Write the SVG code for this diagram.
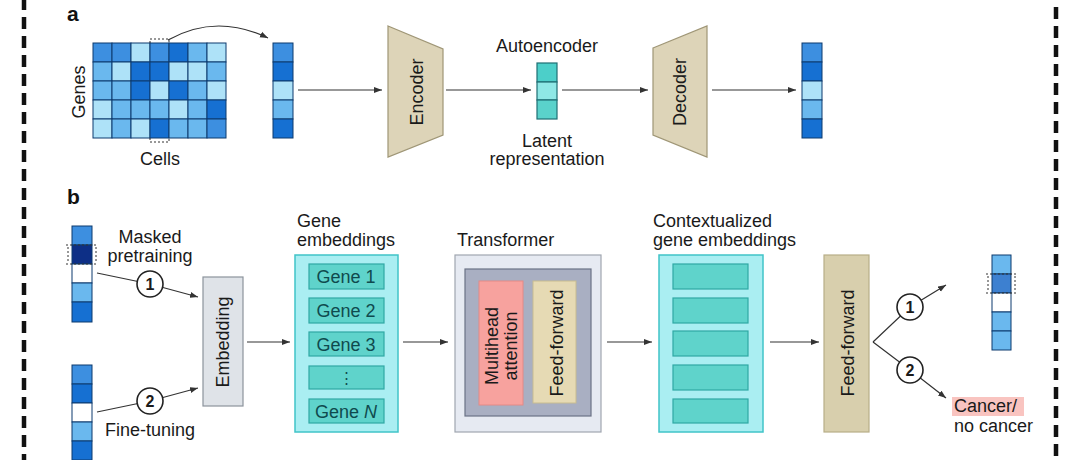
<svg xmlns="http://www.w3.org/2000/svg" width="1080" height="460" viewBox="0 0 1080 460">
<defs>
<marker id="ah" markerUnits="userSpaceOnUse" markerWidth="9" markerHeight="7" refX="8" refY="3.5" orient="auto">
<path d="M0,0.5 L8,3.5 L0,6.5 z" fill="#333"/>
</marker>
<style>
text{font-family:"Liberation Sans",Arial,sans-serif;font-size:18px;fill:#1a1a1a}
.lbl{font-weight:bold;font-size:21px;fill:#111}
.num{font-weight:bold;font-size:16px;text-anchor:middle}
.mid{text-anchor:middle}
.c{stroke:#0d3a6e;stroke-width:1}
.d{fill:#1670d2}.m{fill:#3d8fe0}.lm{fill:#6ab8ee}.l{fill:#aee2f8}.w{fill:#ffffff}.n{fill:#0d2f86}
.conn{fill:none;stroke:#333;stroke-width:1.2}
.dot{fill:none;stroke:#333;stroke-width:1;stroke-dasharray:2 2}
.circ{fill:#fff;stroke:#222;stroke-width:1.6}
.trap{fill:#ddd4b8;stroke:#9f9676;stroke-width:1.2}
.gin{fill:#5fd3cb;stroke:#2fa8a4;stroke-width:1.2}
.gt{fill:#0f4a4e;text-anchor:middle}
</style>
</defs>
<rect width="1080" height="460" fill="#ffffff"/>
<g id="border">
<line x1="24" y1="-2" x2="24" y2="462" stroke="#111" stroke-width="4.5" stroke-dasharray="12 7"/>
<line x1="1056" y1="-2" x2="1056" y2="462" stroke="#111" stroke-width="4.5" stroke-dasharray="12 7" stroke-dashoffset="10"/>
</g>
<text class="lbl" x="67" y="21">a</text>
<text class="lbl" x="67" y="204">b</text>

<g id="matrix">
<g class="c">
<rect class="m" x="93" y="43" width="19" height="19"/><rect class="m" x="112" y="43" width="19" height="19"/><rect class="l" x="131" y="43" width="19" height="19"/><rect class="m" x="150" y="43" width="19" height="19"/><rect class="d" x="169" y="43" width="19" height="19"/><rect class="lm" x="188" y="43" width="19" height="19"/><rect class="l" x="207" y="43" width="19" height="19"/>
<rect class="lm" x="93" y="62" width="19" height="19"/><rect class="l" x="112" y="62" width="19" height="19"/><rect class="d" x="131" y="62" width="19" height="19"/><rect class="d" x="150" y="62" width="19" height="19"/><rect class="l" x="169" y="62" width="19" height="19"/><rect class="l" x="188" y="62" width="19" height="19"/><rect class="lm" x="207" y="62" width="19" height="19"/>
<rect class="lm" x="93" y="81" width="19" height="19"/><rect class="lm" x="112" y="81" width="19" height="19"/><rect class="d" x="131" y="81" width="19" height="19"/><rect class="l" x="150" y="81" width="19" height="19"/><rect class="d" x="169" y="81" width="19" height="19"/><rect class="lm" x="188" y="81" width="19" height="19"/><rect class="l" x="207" y="81" width="19" height="19"/>
<rect class="l" x="93" y="100" width="19" height="19"/><rect class="lm" x="112" y="100" width="19" height="19"/><rect class="lm" x="131" y="100" width="19" height="19"/><rect class="lm" x="150" y="100" width="19" height="19"/><rect class="l" x="169" y="100" width="19" height="19"/><rect class="lm" x="188" y="100" width="19" height="19"/><rect class="d" x="207" y="100" width="19" height="19"/>
<rect class="l" x="93" y="119" width="19" height="19"/><rect class="lm" x="112" y="119" width="19" height="19"/><rect class="l" x="131" y="119" width="19" height="19"/><rect class="d" x="150" y="119" width="19" height="19"/><rect class="lm" x="169" y="119" width="19" height="19"/><rect class="lm" x="188" y="119" width="19" height="19"/><rect class="m" x="207" y="119" width="19" height="19"/>
</g>
<path class="dot" d="M150,43 V39 H169 V43 M150,138 V142 H169 V138"/>
<text transform="translate(85,92) rotate(-90)" class="mid" x="0" y="0">Genes</text>
<text class="mid" x="160" y="165">Cells</text>
</g>

<g id="vector-in" class="c">
<rect class="m" x="273" y="43" width="20" height="19"/><rect class="d" x="273" y="62" width="20" height="19"/><rect class="l" x="273" y="81" width="20" height="19"/><rect class="lm" x="273" y="100" width="20" height="19"/><rect class="d" x="273" y="119" width="20" height="19"/>
</g>

<g id="encoder">
<polygon class="trap" points="388,26 443,49 443,135 388,157"/>
<text transform="translate(416,92) rotate(-90)" class="mid" x="0" y="6.5">Encoder</text>
</g>

<g id="latent">
<text class="mid" x="547" y="52">Autoencoder</text>
<g stroke="#1f6f74" stroke-width="1.2">
<rect x="537" y="63" width="20" height="19" fill="#4ccfc9"/>
<rect x="537" y="82" width="20" height="18" fill="#8fe8e6"/>
<rect x="537" y="100" width="20" height="19" fill="#5ad2cb"/>
</g>
<text class="mid" x="547" y="147">Latent</text>
<text class="mid" x="547" y="165">representation</text>
</g>

<g id="decoder">
<polygon class="trap" points="653,48 707,26 707,157 653,135"/>
<text transform="translate(679,92) rotate(-90)" class="mid" x="0" y="6.5">Decoder</text>
</g>

<g id="vector-out" class="c">
<rect class="m" x="802" y="43" width="20" height="19"/><rect class="d" x="802" y="62" width="20" height="19"/><rect class="l" x="802" y="81" width="20" height="19"/><rect class="lm" x="802" y="100" width="20" height="19"/><rect class="d" x="802" y="119" width="20" height="19"/>
</g>

<g id="vector-masked">
<g class="c">
<rect class="m" x="72" y="226" width="20" height="19"/><rect class="n" x="72" y="245" width="20" height="19"/><rect class="w" x="72" y="264" width="20" height="19"/><rect class="lm" x="72" y="283" width="20" height="19"/><rect class="d" x="72" y="302" width="20" height="20"/>
</g>
<path class="dot" d="M66,245 H98 M66,264 H98 M68,247 V262 M96,247 V262"/>
<text class="mid" x="150" y="243">Masked</text>
<text class="mid" x="150" y="262">pretraining</text>
</g>

<g id="vector-finetune">
<g class="c">
<rect class="m" x="72" y="365" width="20" height="19"/><rect class="d" x="72" y="384" width="20" height="19"/><rect class="w" x="72" y="403" width="20" height="19"/><rect class="lm" x="72" y="422" width="20" height="19"/><rect class="d" x="72" y="441" width="20" height="19"/>
</g>
<text class="mid" x="150" y="436">Fine-tuning</text>
</g>

<g id="connectors">
<path class="conn" d="M168,40 Q216,13 268,38" marker-end="url(#ah)"/>
<line class="conn" x1="298" y1="90" x2="382" y2="90" marker-end="url(#ah)"/>
<line class="conn" x1="446" y1="90" x2="531" y2="90" marker-end="url(#ah)"/>
<line class="conn" x1="562" y1="90" x2="648" y2="90" marker-end="url(#ah)"/>
<line class="conn" x1="712" y1="90" x2="796" y2="90" marker-end="url(#ah)"/>
<path class="conn" d="M97,273 L150,284 L198,297" marker-end="url(#ah)"/>
<path class="conn" d="M97,412 L150,401 L198,388" marker-end="url(#ah)"/>
<line class="conn" x1="247" y1="342" x2="290" y2="342" marker-end="url(#ah)"/>
<line class="conn" x1="403" y1="342" x2="448" y2="342" marker-end="url(#ah)"/>
<line class="conn" x1="607" y1="342" x2="652" y2="342" marker-end="url(#ah)"/>
<line class="conn" x1="770" y1="342" x2="819" y2="342" marker-end="url(#ah)"/>
<path class="conn" d="M873,342 L910,307 L946,285" marker-end="url(#ah)"/>
<path class="conn" d="M873,342 L910,370 L946,398" marker-end="url(#ah)"/>
</g>

<g id="circle-1a"><circle class="circ" cx="150" cy="284" r="13"/><text class="num" x="150" y="290">1</text></g>
<g id="circle-2a"><circle class="circ" cx="150" cy="401" r="13"/><text class="num" x="150" y="407">2</text></g>

<g id="embedding">
<rect x="203" y="277" width="40" height="129" fill="#dfe3e8" stroke="#8c939c" stroke-width="1.2"/>
<text transform="translate(223,342) rotate(-90)" class="mid" x="0" y="6">Embedding</text>
</g>

<g id="gene-embeddings">
<text x="297" y="227">Gene</text>
<text x="297" y="246">embeddings</text>
<rect x="295" y="255" width="103" height="177" fill="#aaeef2" stroke="#40c4c8" stroke-width="1.5"/>
<rect class="gin" x="309" y="264" width="75" height="25"/>
<rect class="gin" x="309" y="298" width="75" height="25"/>
<rect class="gin" x="309" y="332" width="75" height="24"/>
<rect class="gin" x="309" y="366" width="75" height="23"/>
<rect class="gin" x="309" y="399" width="75" height="24"/>
<text class="gt" x="346" y="283">Gene 1</text>
<text class="gt" x="346" y="317">Gene 2</text>
<text class="gt" x="346" y="351">Gene 3</text>
<text class="gt" x="346" y="383" style="font-size:15px">⋮</text>
<text class="gt" x="346" y="418">Gene <tspan font-style="italic">N</tspan></text>
</g>

<g id="transformer">
<text x="457" y="246">Transformer</text>
<rect x="455" y="255" width="146" height="177" fill="#e6eaf2" stroke="#a0a6b0" stroke-width="1.2"/>
<rect x="465" y="269" width="126" height="147" fill="#a9afc2" stroke="#6b7285" stroke-width="1.2"/>
<rect x="479" y="281" width="44" height="124" fill="#f7a29e" stroke="#e48a86" stroke-width="1"/>
<rect x="533" y="281" width="43" height="122" fill="#e6dab4" stroke="#c8bc90" stroke-width="1"/>
<text transform="translate(501,346) rotate(-90)" class="mid" x="0" y="-3">Multihead</text>
<text transform="translate(501,346) rotate(-90)" class="mid" x="0" y="16">attention</text>
<text transform="translate(556,343) rotate(-90)" class="mid" x="0" y="6.5">Feed-forward</text>
</g>

<g id="contextualized">
<text x="653" y="227">Contextualized</text>
<text x="653" y="246">gene embeddings</text>
<rect x="659" y="255" width="104" height="177" fill="#aaeef2" stroke="#40c4c8" stroke-width="1.5"/>
<rect class="gin" x="673" y="264" width="75" height="25"/>
<rect class="gin" x="673" y="298" width="75" height="25"/>
<rect class="gin" x="673" y="331" width="75" height="25"/>
<rect class="gin" x="673" y="365" width="75" height="25"/>
<rect class="gin" x="673" y="399" width="75" height="24"/>
</g>

<g id="feed-forward">
<rect x="824" y="255" width="45" height="177" fill="#d8cfad" stroke="#b8ae88" stroke-width="1.2"/>
<text transform="translate(847,343) rotate(-90)" class="mid" x="0" y="6.5">Feed-forward</text>
</g>

<g id="circle-1b"><circle class="circ" cx="910" cy="307" r="13"/><text class="num" x="910" y="313">1</text></g>
<g id="circle-2b"><circle class="circ" cx="910" cy="370" r="13"/><text class="num" x="910" y="376">2</text></g>

<g id="vector-predicted">
<g class="c">
<rect class="lm" x="992" y="255" width="19" height="19"/><rect fill="#3d80d0" x="992" y="274" width="19" height="19"/><rect class="w" x="992" y="293" width="19" height="19"/><rect class="lm" x="992" y="312" width="19" height="19"/><rect class="lm" x="992" y="331" width="19" height="19"/>
</g>
<path class="dot" d="M986,274 H1017 M986,293 H1017 M988,276 V291 M1015,276 V291"/>
</g>

<g id="cancer">
<rect x="952" y="397" width="72" height="19" fill="#f9c4c0"/>
<text x="954" y="412">Cancer/</text>
<text x="954" y="432">no cancer</text>
</g>
</svg>
